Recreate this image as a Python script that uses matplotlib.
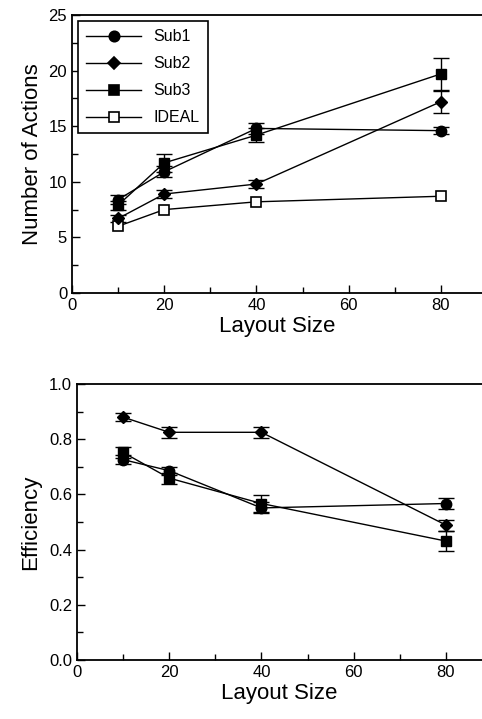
import numpy as np
import matplotlib
matplotlib.use("Agg")
import matplotlib.pyplot as plt
from matplotlib.ticker import MultipleLocator, FormatStrFormatter
from matplotlib.lines import Line2D

plt.rcParams["font.family"] = ["Liberation Sans", "DejaVu Sans"]

# Layout sizes
layout_size = [10, 20, 40, 80]

# Number of actions (top panel)
actions_sub1 = [8.4, 10.9, 14.8, 14.6]
actions_sub1_err = [0.4, 0.5, 0.5, 0.3]
actions_sub2 = [6.7, 8.9, 9.8, 17.2]
actions_sub2_err = [0.3, 0.4, 0.4, 1.0]
actions_sub3 = [7.9, 11.7, 14.2, 19.7]
actions_sub3_err = [0.4, 0.8, 0.6, 1.4]
actions_ideal = [6.0, 7.5, 8.2, 8.7]

# Efficiency (bottom panel)
eff_sub1 = [0.726, 0.686, 0.551, 0.567]
eff_sub1_err = [0.015, 0.015, 0.02, 0.02]
eff_sub2 = [0.880, 0.825, 0.825, 0.489]
eff_sub2_err = [0.015, 0.02, 0.02, 0.02]
eff_sub3 = [0.752, 0.659, 0.567, 0.431]
eff_sub3_err = [0.02, 0.02, 0.03, 0.035]

MSIZE = {"o": 7.5, "D": 6.5, "s": 7.5}


def style_axes(ax, xmax):
    ax.set_xlim(0, xmax)
    ax.spines["right"].set_visible(False)
    for s in ["left", "bottom", "top"]:
        ax.spines[s].set_linewidth(1.3)
    ax.xaxis.set_major_locator(MultipleLocator(20))
    ax.xaxis.set_minor_locator(MultipleLocator(10))
    ax.tick_params(which="both", direction="in", top=False, right=False,
                   labelsize=12, width=1)
    ax.tick_params(which="major", length=6)
    ax.tick_params(which="minor", length=4)
    ax.set_xlabel("Layout Size", fontsize=16, labelpad=2)


def draw_series(ax, y, err, marker, filled=True):
    face = "black" if filled else "white"
    if err is not None:
        ax.errorbar(layout_size, y, yerr=err, color="black", marker=marker,
                    markersize=MSIZE[marker], mfc=face, mec="black",
                    linewidth=1, capsize=6, elinewidth=1)
    else:
        ax.plot(layout_size, y, color="black", marker=marker,
                markersize=MSIZE[marker], mfc=face, mec="black", mew=1.2,
                linewidth=1)


fig = plt.figure(figsize=(4.82, 7.19), dpi=100)

ax1 = fig.add_axes([72 / 482, 1 - 293 / 719, 410 / 482, 278 / 719])
draw_series(ax1, actions_sub1, actions_sub1_err, "o")
draw_series(ax1, actions_sub2, actions_sub2_err, "D")
draw_series(ax1, actions_sub3, actions_sub3_err, "s")
draw_series(ax1, actions_ideal, None, "s", filled=False)
style_axes(ax1, 410 / 4.61)
ax1.set_ylim(0, 25)
ax1.yaxis.set_major_locator(MultipleLocator(5))
ax1.yaxis.set_minor_locator(MultipleLocator(2.5))
ax1.set_ylabel("Number of Actions", fontsize=16, labelpad=4)

legend_labels = ["Sub1", "Sub2", "Sub3", "IDEAL"]
legend_markers = ["o", "D", "s", "s"]
legend_faces = ["black", "black", "black", "white"]
handles = [
    Line2D([], [], color="black", linewidth=1, marker=m,
           markersize=MSIZE[m], mfc=f, mec="black", mew=1.2)
    for m, f in zip(legend_markers, legend_faces)
]
leg = ax1.legend(handles, legend_labels, loc="upper left", fontsize=11.5,
                 frameon=True, fancybox=False, edgecolor="black",
                 borderaxespad=0.4, handlelength=3.4, labelspacing=0.75,
                 borderpad=0.5, framealpha=1)
leg.get_frame().set_linewidth(1.2)

ax2 = fig.add_axes([77 / 482, 1 - 660 / 719, 405 / 482, 276 / 719])
draw_series(ax2, eff_sub1, eff_sub1_err, "o")
draw_series(ax2, eff_sub2, eff_sub2_err, "D")
draw_series(ax2, eff_sub3, eff_sub3_err, "s")
style_axes(ax2, 405 / 4.61)
ax2.set_ylim(0, 1.0)
ax2.yaxis.set_major_locator(MultipleLocator(0.2))
ax2.yaxis.set_minor_locator(MultipleLocator(0.1))
ax2.yaxis.set_major_formatter(FormatStrFormatter("%.1f"))
ax2.set_ylabel("Efficiency", fontsize=16, labelpad=6)

fig.savefig("out.png", dpi=100)
